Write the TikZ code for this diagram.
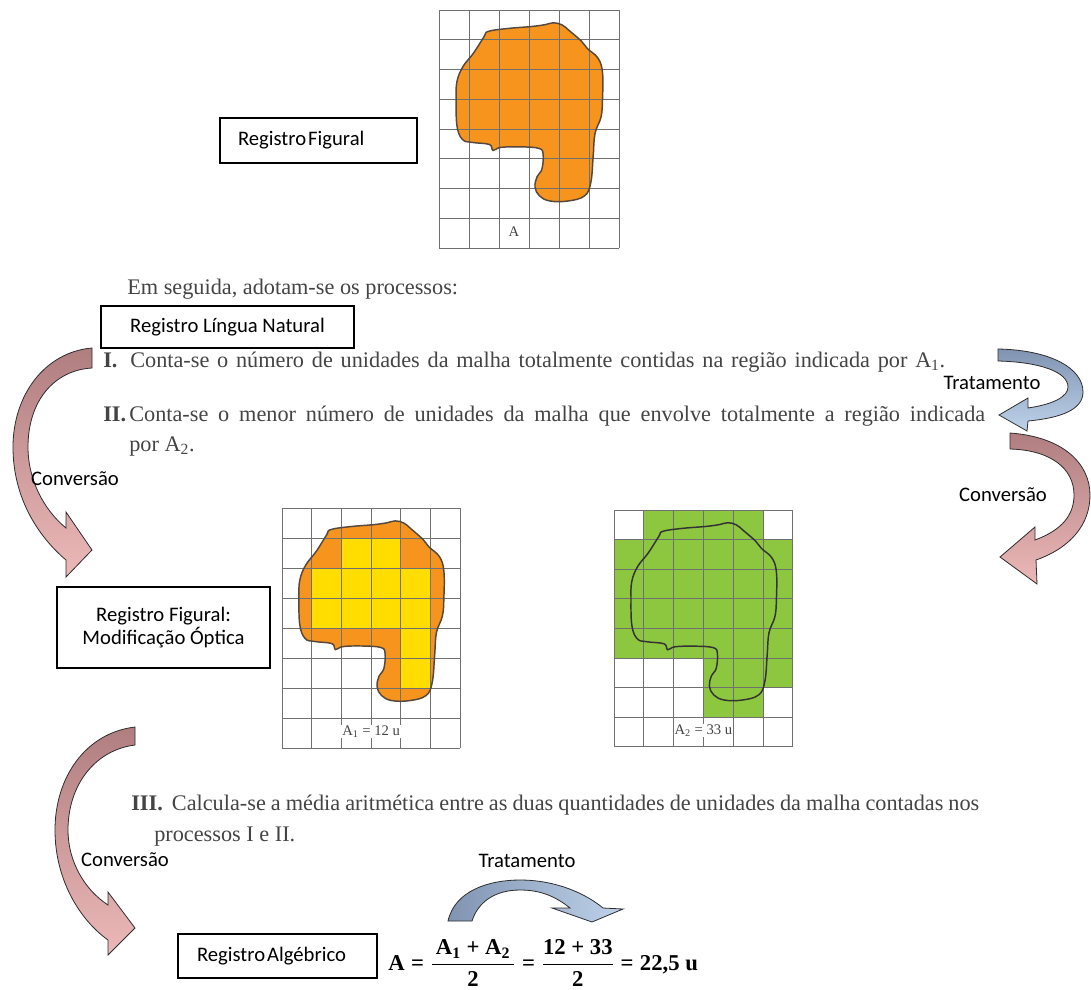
\documentclass[tikz,border=0pt]{standalone}
\usepackage{fontspec}
\usepackage{amsmath}
\setmainfont{Liberation Serif}
\newfontfamily\calib{Carlito}
\definecolor{orangeF}{RGB}{247,148,30}
\definecolor{yellowF}{RGB}{255,221,0}
\definecolor{greenF}{RGB}{141,198,63}
\definecolor{blobline}{RGB}{85,72,60}
\definecolor{gridc}{RGB}{112,112,112}
\definecolor{txt}{RGB}{68,68,68}
\definecolor{mauveD}{RGB}{176,126,128}
\definecolor{mauveL}{RGB}{236,184,184}
\definecolor{blueD}{RGB}{128,148,178}
\definecolor{blueL}{RGB}{190,210,234}
\definecolor{arrowline}{RGB}{45,45,45}
\newcommand\blobshape[1]{\path[#1] plot[smooth cycle, tension=0.65] coordinates {(1.64,0.72) (2.3,0.62) (3.03,0.56) (3.5,0.5) (3.81,0.43) (4.1,0.5) (4.35,0.7) (4.75,1.05) (4.95,1.3) (5.3,1.62) (5.45,2.1) (5.45,3.0) (5.4,3.6) (5.2,4.15) (5.14,4.9) (5.06,5.8) (4.85,6.25) (4.3,6.42) (3.7,6.42) (3.35,6.25) (3.2,5.95) (3.27,5.6) (3.43,5.35) (3.47,4.85) (3.33,4.65) (2.7,4.6) (2.05,4.62) (1.8,4.72) (1.68,4.52) (1.1,4.45) (0.78,4.35) (0.6,3.9) (0.57,3.0) (0.6,2.4) (0.8,1.9) (1.15,1.45) (1.5,0.9)};}
\newcommand\gridlines{\foreach \i in {0,...,6} {\draw[gridline] (\i,0) -- (\i,8);}\foreach \j in {0,...,8} {\draw[gridline] (0,\j) -- (6,\j);}}
\tikzset{
  gridline/.style={draw=gridc, line width=0.7pt},
  box/.style={draw=black, line width=0.8pt, font=\calib\fontsize{15.5}{17.5}\selectfont, inner sep=0pt},
  lbl/.style={font=\calib\fontsize{15.5}{17.5}\selectfont, inner sep=0pt},
  serif/.style={font=\fontsize{16.7}{20}\selectfont, text=txt, inner sep=0pt},
  cellnum/.style={font=\fontsize{11}{13}\selectfont, text=txt, fill=white, inner sep=0.6pt},
  arrowm/.style={draw=arrowline, line width=0.6pt, top color=mauveD, bottom color=mauveL},
  arrowb/.style={draw=arrowline, line width=0.6pt, top color=blueD, bottom color=blueL},
  arrowbh/.style={draw=arrowline, line width=0.6pt, left color=blueD, right color=blueL},
}
\begin{document}
\begin{tikzpicture}[x=0.75pt,y=-0.75pt]
\useasboundingbox (0,0) rectangle (1091,989);
\fill[white] (0,0) rectangle (1091,989);

% ---------- top grid ----------
\begin{scope}[shift={(439,10)}, x=22.5pt, y=-22.3125pt]
  \blobshape{fill=orangeF}
  \gridlines
  \blobshape{draw=blobline, line width=1.1pt}
  \node[cellnum] (lblA) at (2.5,7.45) {A};
\end{scope}

% ---------- middle left grid ----------
\begin{scope}[shift={(282,508)}, x=22.275pt, y=-22.5pt]
  \blobshape{fill=orangeF}
  \fill[yellowF] (2,1) rectangle (4,2);
  \fill[yellowF] (1,2) rectangle (5,4);
  \fill[yellowF] (4,4) rectangle (5,6);
  \gridlines
  \blobshape{draw=blobline, line width=1.1pt}
  \node[cellnum] (lblA1) at (3,7.45) {A\textsubscript{1} = 12 u};
\end{scope}

% ---------- middle right grid ----------
\begin{scope}[shift={(614,510)}, x=22.35pt, y=-22.2pt]
  \fill[greenF] (1,0) rectangle (5,1);
  \fill[greenF] (0,1) rectangle (6,5);
  \fill[greenF] (3,5) rectangle (6,6);
  \fill[greenF] (3,6) rectangle (5,7);
  \gridlines
  \blobshape{draw=black!80, line width=1.1pt}
  \node[cellnum] (lblA2) at (3,7.45) {A\textsubscript{2} = 33 u};
\end{scope}

% ---------- curved arrows ----------
% left top: Conversao
\path[arrowm] (92,348) .. controls (45,352) and (13,395) .. (13,447)
  .. controls (13,500) and (40,538) .. (66,560) -- (66,577) -- (92,550) -- (66,512) -- (66,528)
  .. controls (44,510) and (28,480) .. (28,447) .. controls (28,400) and (55,370) .. (92,368) -- cycle;
% right top: Tratamento
\path[arrowb] (998,349) .. controls (1050,350) and (1083,368) .. (1083,392)
  .. controls (1083,410) and (1060,418) .. (1028,421) -- (1027,431) -- (999,415) -- (1028,398) -- (1028,408)
  .. controls (1055,404) and (1068,396) .. (1068,387) .. controls (1068,372) and (1040,362) .. (998,361) -- cycle;
% right: Conversao
\path[arrowm] (1010,433) .. controls (1065,437) and (1090,465) .. (1090,495)
  .. controls (1090,525) and (1070,548) .. (1036,560) -- (1037,584) -- (1000,557) -- (1035,527) -- (1035,540)
  .. controls (1062,530) and (1074,515) .. (1074,495) .. controls (1074,468) and (1050,450) .. (1010,449) -- cycle;
% bottom left: Conversao
\path[arrowm] (135,727) .. controls (85,733) and (55,778) .. (55,830)
  .. controls (55,880) and (80,920) .. (108,940) -- (108,955) -- (135,928) -- (108,892) -- (108,905)
  .. controls (85,890) and (68,862) .. (68,830) .. controls (68,785) and (95,750) .. (135,745) -- cycle;
% bottom: Tratamento
\path[arrowbh] (448,921) .. controls (455,890) and (490,880) .. (520,880)
  .. controls (555,880) and (585,893) .. (603,908) -- (623,909) -- (592,922) -- (552,908) -- (570,908)
  .. controls (555,896) and (540,890) .. (520,890) .. controls (495,890) and (478,902) .. (472,921) -- cycle;

% ---------- boxes ----------
\node[box, minimum width=147.75pt, minimum height=33.75pt, text width=120.75pt, inner xsep=13.5pt, align=left] (regfig) at (318.5,140.5) {Registro\hspace{1.5pt}Figural};
\node[box, minimum width=189.75pt, minimum height=31.5pt] (reglin) at (227.5,327) {Registro Língua Natural};
\node[box, minimum width=159.75pt, minimum height=60.75pt, align=center] (regmod) at (163.5,627.5) {Registro Figural:\\Modificação Óptica};
\node[box, minimum width=149.25pt, minimum height=33pt, text width=120.75pt, inner xsep=14.25pt, align=left] (regalg) at (277.5,956) {Registro\hspace{1.5pt}Algébrico};

% ---------- labels ----------
\node[lbl] (trat1) at (992,383) {Tratamento};
\node[lbl] (conv1) at (75,479) {Conversão};
\node[lbl] (conv2) at (1003,495) {Conversão};
\node[lbl] (conv3) at (125,860) {Conversão};
\node[lbl] (trat2) at (527,861) {Tratamento};

% ---------- serif text ----------
\node[serif, anchor=base west] (emseg) at (127,294) {Em seguida, adotam-se os processos:};
\node[serif, anchor=base west] (lineI) at (103,367) {\makebox[631.5pt][s]{\makebox[20.25pt][l]{\textbf{I.}}Conta-se o número de unidades da malha totalmente contidas na região indicada por A\textsubscript{1}.}};
\node[serif, anchor=base west] (lineII) at (103,421) {\makebox[661.5pt][s]{\makebox[19.5pt][l]{\textbf{II.}}Conta-se o menor número de unidades da malha que envolve totalmente a região indicada}};
\node[serif, anchor=base west] (lineIIb) at (129,451) {por A\textsubscript{2}.};
\node[serif, anchor=base west] (lineIII) at (131,810) {\makebox[636pt][s]{\makebox[30.5pt][l]{\textbf{III.}}Calcula-se a média aritmética entre as duas quantidades de unidades da malha contadas nos}};
\node[serif, anchor=base west] (lineIIIb) at (154,841) {processos I e II.};

% ---------- formula ----------
\node[anchor=west, inner sep=0pt, font=\fontsize{17}{20}\selectfont] (formula) at (388,963)
  {$\textbf{A} \mathrel{\textbf{=}} \genfrac{}{}{0.9pt}{0}{\hspace{3pt}\textbf{A\textsubscript{1} + A\textsubscript{2}}\hspace{3pt}}{\textbf{2}} \mathrel{\textbf{=}} \genfrac{}{}{0.9pt}{0}{\textbf{12 + 33}}{\textbf{2}} \mathrel{\textbf{=}} \textbf{22,5 u}$};
\end{tikzpicture}
\end{document}
